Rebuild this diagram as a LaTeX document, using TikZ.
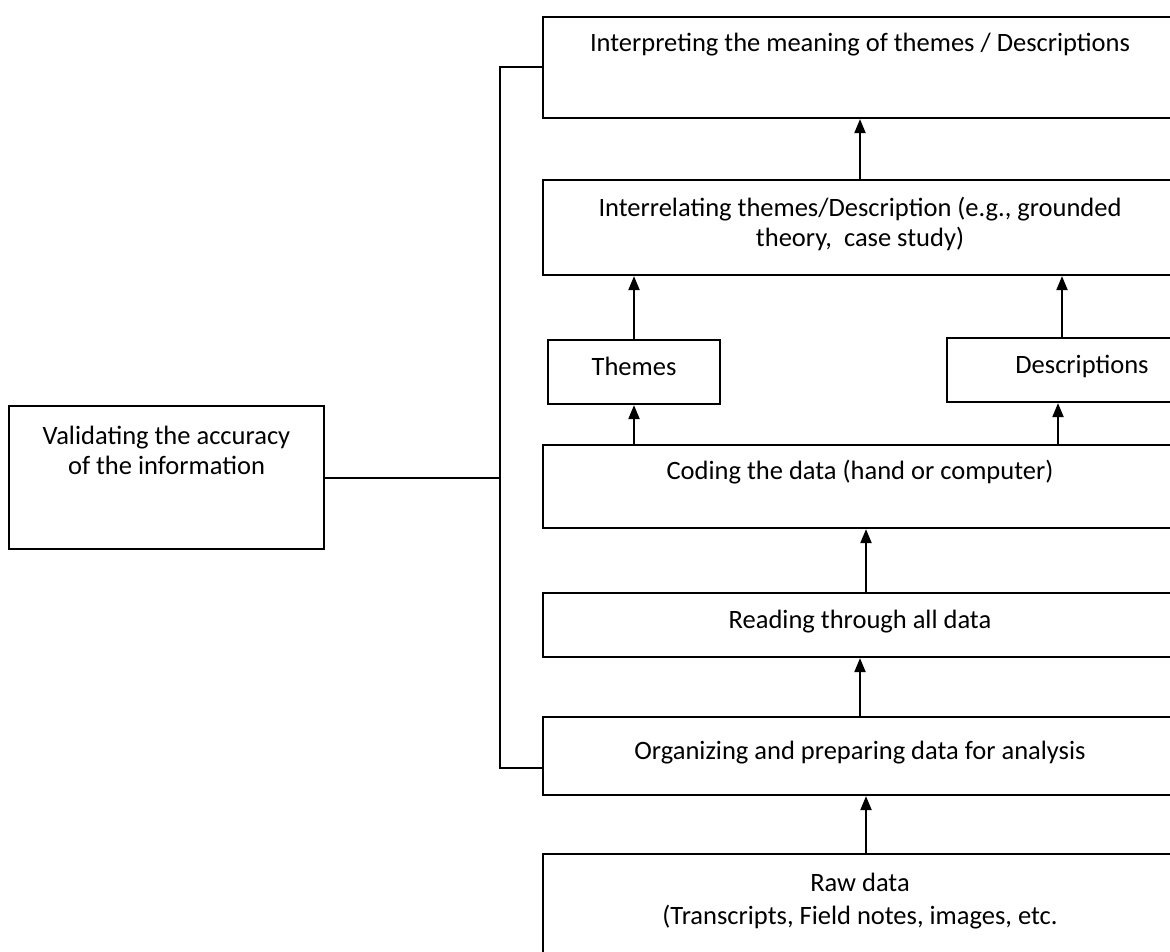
\documentclass[tikz,border=0pt]{standalone}
\usepackage{fontspec}
\setmainfont{Carlito}
\usetikzlibrary{arrows.meta, positioning}

\begin{document}
\begin{tikzpicture}[
    x=1pt, y=-1pt,
    every node/.style={font=\fontsize{26.5}{30}\selectfont},
    % Estilo para las cajas del proceso
    caja/.style={
        draw, line width=2.2pt, inner sep=0pt, align=center
    },
    % Cajas anchas de la columna derecha
    cajaAncha/.style={
        caja, minimum width=634pt
    },
    % Estilo para las flechas verticales
    flecha/.style={
        line width=2pt, -{Triangle[length=14pt, width=11pt]}
    },
    % Estilo para la linea de validacion
    linea/.style={
        line width=2pt
    }
]
    % --- PARÁMETROS ---
    \def\xc{860}     % centro de las cajas anchas
    \def\xb{500}     % barra vertical de validacion

    \useasboundingbox (0,0) rectangle (1170,952);
    \clip (0,0) rectangle (1170,952);

    % 1. Columna derecha
    \node[cajaAncha, text height=35pt, text depth=66pt] (interp) at (\xc, 67.5)
        {Interpreting the meaning of themes / Descriptions};
    \node[cajaAncha, text height=67pt, text depth=28pt] (interrel) at (\xc, 227.5)
        {Interrelating themes/Description (e.g., grounded\\theory,\ \ case study)};
    \node[caja, minimum width=172pt, text height=35pt, text depth=29pt] (temas) at (634, 372)
        {Themes};
    \node[caja, minimum width=270pt, text height=35pt, text depth=29pt] (desc) at (1082, 370)
        {Descriptions};
    \node[cajaAncha, text height=34pt, text depth=49pt] (codif) at (\xc, 486.5)
        {Coding the data (hand or computer)};
    \node[cajaAncha, text height=35pt, text depth=29pt] (lectura) at (\xc, 625)
        {Reading through all data};
    \node[cajaAncha, text height=42pt, text depth=36pt] (organiz) at (\xc, 756)
        {Organizing and preparing data for analysis};
    \node[cajaAncha, text height=70pt, text depth=66pt] (crudos) at (\xc, 922)
        {Raw data\\[3pt](Transcripts, Field notes, images, etc.};

    % 2. Caja de validacion
    \node[caja, minimum width=315pt, text height=68pt, text depth=75pt] (valid) at (166.5, 477.5)
        {Validating the accuracy\\of the information};

    % 3. Flechas
    \draw[flecha] (interrel.north) -- (interp.south);
    \draw[flecha] (temas.north) -- (temas.north |- interrel.south);
    \draw[flecha] ([xshift=-20pt]desc.north) -- ([xshift=-20pt]desc.north |- interrel.south);
    \draw[flecha] (temas.south |- codif.north) -- (temas.south);
    \draw[flecha] ([xshift=-24pt]desc.south |- codif.north) -- ([xshift=-24pt]desc.south);
    \draw[flecha] ([xshift=6pt]lectura.north) -- ([xshift=6pt]codif.south);
    \draw[flecha] (organiz.north) -- (lectura.south);
    \draw[flecha] ([xshift=6pt]crudos.north) -- ([xshift=6pt]organiz.south);

    % 4. Barra de validacion
    \coordinate (barra) at (\xb, 0);
    \draw[linea] (interp.west) -- (interp.west -| barra) |- ([yshift=-12pt]organiz.west);
    \draw[linea] (valid.east) -- (valid.east -| barra);

\end{tikzpicture}
\end{document}
